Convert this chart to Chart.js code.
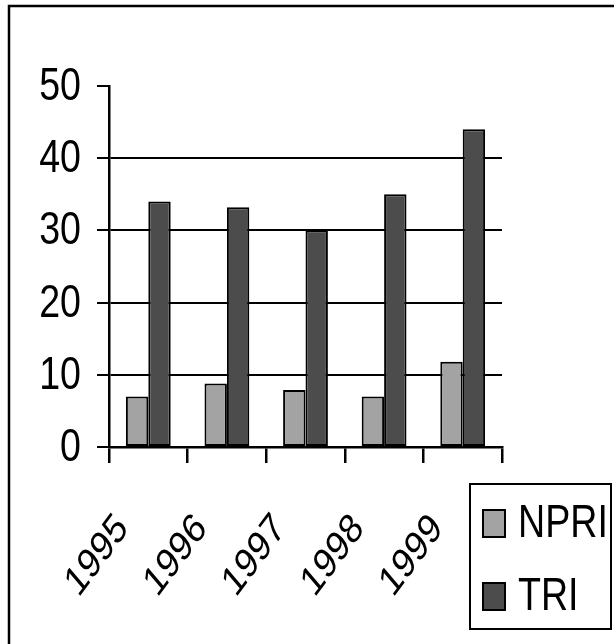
<!DOCTYPE html>
<html>
<head>
<meta charset="utf-8">
<script src="https://cdn.jsdelivr.net/npm/chart.js@4/dist/chart.umd.min.js"></script>
<style>
  html, body { margin: 0; padding: 0; background: #fff; }
  #chart { display: block; }
</style>
</head>
<body>
<canvas id="chart" width="614" height="644"></canvas>
<script>
// NPRI vs TRI, 1995-1999
const years = ["1995", "1996", "1997", "1998", "1999"];
const npri = [7, 8.8, 7.9, 7, 11.8];
const tri = [34, 33.2, 30, 35, 44];
const yTicks = [0, 10, 20, 30, 40, 50];

const FONT = "'Liberation Sans', Arial, sans-serif";
const SQUEEZE = 0.8; // the original looks horizontally squeezed (narrow text)

// text rotated by angle (deg), then the whole thing squeezed horizontally
function squeezedText(ctx, text, x, y, angle, size){
  const a = angle * Math.PI / 180;
  const c = Math.cos(a), s = Math.sin(a);
  ctx.save();
  ctx.setTransform(SQUEEZE * c, s, -SQUEEZE * s, c, x, y);
  ctx.font = size + "px " + FONT;
  ctx.fillText(text, 0, 0);
  ctx.restore();
}

// outer frame
const framePlugin = {
  id: "frame",
  afterDraw(chart){
    const ctx = chart.ctx;
    ctx.save();
    ctx.strokeStyle = "#000";
    ctx.lineWidth = 2.5;
    ctx.strokeRect(9, 6, 620, 660);
    ctx.restore();
  }
};

// tick labels drawn from the scales
const tickLabels = {
  id: "tickLabels",
  afterDraw(chart){
    const ctx = chart.ctx;
    const xs = chart.scales.x, ys = chart.scales.y;
    ctx.save();
    ctx.fillStyle = "#000";
    ctx.textAlign = "right";
    ctx.textBaseline = "middle";
    ys.ticks.forEach(t => {
      squeezedText(ctx, String(t.value), 81, ys.getPixelForValue(t.value) + 1, 0, 47);
    });
    ctx.textAlign = "center";
    chart.data.labels.forEach((lab, i) => {
      squeezedText(ctx, lab, xs.getPixelForTick(i) - 51, 556, -47, 42);
    });
    ctx.restore();
  }
};

// boxed legend at bottom right
const boxLegend = {
  id: "boxLegend",
  afterDraw(chart){
    const ctx = chart.ctx;
    ctx.save();
    ctx.strokeStyle = "#000";
    ctx.lineWidth = 2;
    ctx.strokeRect(470, 484, 141, 145);
    ctx.textBaseline = "alphabetic";
    ctx.textAlign = "left";
    chart.data.datasets.forEach((ds, i) => {
      const top = 510 + i * 73;
      ctx.fillStyle = ds.backgroundColor;
      ctx.fillRect(483, top, 22, 27);
      ctx.lineWidth = 2;
      ctx.strokeRect(483, top, 22, 27);
      ctx.fillStyle = "#000";
      squeezedText(ctx, ds.label, 518, top + 27, 0, 47);
    });
    ctx.restore();
  }
};

new Chart(document.getElementById("chart"), {
  type: "bar",
  data: {
    labels: years,
    datasets: [
      { label: "NPRI", data: npri, backgroundColor: "#a3a3a3", borderColor: "#000", borderWidth: 2, borderSkipped: false },
      { label: "TRI", data: tri, backgroundColor: "#4c4c4c", borderColor: "#000", borderWidth: 2, borderSkipped: false }
    ]
  },
  options: {
    responsive: false,
    animation: false,
    devicePixelRatio: 1,
    layout: { padding: { top: 86, right: 112, left: 0, bottom: 0 } },
    datasets: { bar: { categoryPercentage: 0.57, barPercentage: 1 } },
    plugins: { legend: { display: false }, tooltip: { enabled: false } },
    scales: {
      x: {
        offset: true,
        afterFit(scale){ scale.height = 197; },
        border: { color: "#000", width: 2.5 },
        grid: { offset: true, drawOnChartArea: false, color: "#000", tickColor: "#000", tickLength: 16, lineWidth: 2.5 },
        ticks: {
          color: "rgba(0,0,0,0)",
          autoSkip: false,
          font: { family: FONT, size: 20 },
          maxRotation: 0
        }
      },
      y: {
        min: 0,
        max: 50,
        afterFit(scale){ scale.width = 109; },
        afterBuildTicks(scale){ scale.ticks = yTicks.map(v => ({ value: v })); },
        border: { color: "#000", width: 2.5 },
        grid: {
          color: ctx => (ctx.tick && ctx.tick.value === 50) ? "rgba(0,0,0,0)" : "#000",
          tickColor: "#000",
          tickLength: 12,
          lineWidth: 2
        },
        ticks: {
          color: "rgba(0,0,0,0)",
          font: { family: FONT, size: 20 },
          padding: 16
        }
      }
    }
  },
  plugins: [framePlugin, tickLabels, boxLegend]
});
</script>
</body>
</html>
